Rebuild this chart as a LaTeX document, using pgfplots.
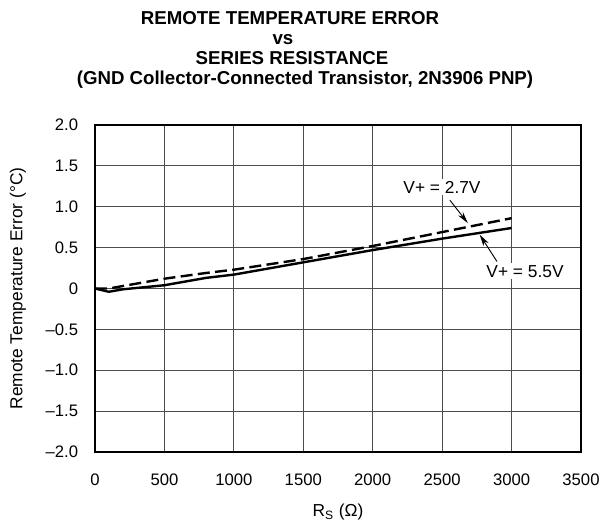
\documentclass[border=0pt]{standalone}
\usepackage{pgfplots}
\pgfplotsset{compat=1.18}
\usetikzlibrary{arrows.meta}
\usepackage{fontspec}
\setmainfont{Liberation Sans}
\begin{document}
\begin{tikzpicture}
\begin{axis}[
  at={(0,0)}, anchor=south west,
  scale only axis,
  width=364.5pt, height=245.25pt,
  xmin=0, xmax=3500, ymin=-2, ymax=2,
  xtick={0,500,...,3500},
  ytick={-2,-1.5,...,2},
  yticklabels={\textendash2.0,\textendash1.5,\textendash1.0,\textendash0.5,0,0.5,1.0,1.5,2.0},
  xticklabels={0,500,1000,1500,2000,2500,3000,3500},
  grid=major,
  major grid style={black!70, line width=0.8pt},
  axis line style={line width=2pt},
  tick style={draw=none},
  ticklabel style={font=\fontsize{12.5pt}{14pt}\selectfont, inner sep=0pt},
  xticklabel style={anchor=north, yshift=-16pt},
  yticklabel style={anchor=east, xshift=-12.5pt},
  clip=false,
]
\addplot[black, line width=1.8pt] coordinates {
(0,0) (100,-0.04) (200,-0.01) (500,0.04) (800,0.13) (1000,0.17) (1500,0.32) (2000,0.47) (2500,0.61) (3000,0.74)};
\addplot[black, line width=1.8pt, dash pattern=on 9pt off 4pt] coordinates {
(0,0) (100,0.0) (500,0.12) (800,0.19) (1000,0.23) (1500,0.36) (2000,0.52) (2500,0.69) (3000,0.86)};
\node[fill=white, inner sep=1.5pt, font=\fontsize{13pt}{15pt}\selectfont] at (axis cs:2499,1.24) {V+ = 2.7V};
\draw[-{Stealth[length=9pt,width=4.5pt]}, line width=0.7pt] (axis cs:2556,1.08) -- (axis cs:2685,0.80);
\node[fill=white, inner sep=1.5pt, font=\fontsize{13pt}{15pt}\selectfont] at (axis cs:3097,0.21) {V+ = 5.5V};
\draw[-{Stealth[length=9pt,width=4.5pt]}, line width=0.7pt] (axis cs:2895,0.33) -- (axis cs:2770,0.66);
\end{axis}
\begin{scope}[every node/.style={font=\bfseries\fontsize{14pt}{15pt}\selectfont, inner sep=0pt, anchor=base}]
\node at (146.25pt,320.5pt) {REMOTE TEMPERATURE ERROR};
\node at (141pt,305.5pt) {vs};
\node at (147.75pt,290.5pt) {SERIES RESISTANCE};
\node at (157.5pt,275.5pt) {(GND Collector-Connected Transistor, 2N3906 PNP)};
\end{scope}
\node[font=\fontsize{13pt}{15pt}\selectfont, inner sep=0pt] at (182.25pt,-45pt) {R\textsubscript{S} (Ω)};
\node[font=\fontsize{13pt}{15pt}\selectfont, inner sep=0pt, rotate=90] at (-57.75pt,122.6pt) {Remote Temperature Error (°C)};
\pgfresetboundingbox
\path (-71.25pt,-54.75pt) rectangle (378.75pt,339pt);
\end{tikzpicture}
\end{document}
